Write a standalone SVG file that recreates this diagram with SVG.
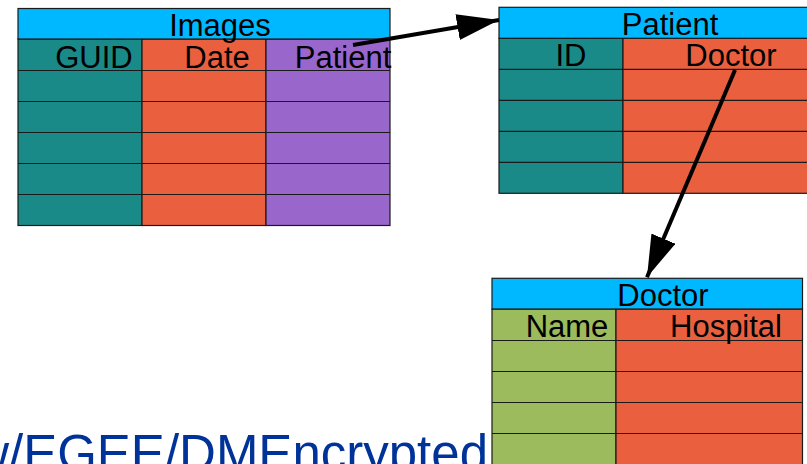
<svg xmlns="http://www.w3.org/2000/svg" width="807" height="464" viewBox="0 0 807 464">
<defs>
<style>
.t{fill:#00B8FF;stroke:#1a1a1a;stroke-width:1.2}
.teal{fill:#1A8A88;stroke:#1a1a1a;stroke-width:1.2}
.or{fill:#EA603F;stroke:#1a1a1a;stroke-width:1.2}
.pu{fill:#9966CC;stroke:#1a1a1a;stroke-width:1.2}
.gr{fill:#9BBB5C;stroke:#1a1a1a;stroke-width:1.2}
text{font-family:"Liberation Sans",Arial,sans-serif;font-size:31px;fill:#000;text-anchor:middle}
.conn{stroke:#000;stroke-width:4;fill:none}
</style>
<marker id="ah" markerUnits="userSpaceOnUse" viewBox="0 0 42 26" refX="42" refY="13" markerWidth="42" markerHeight="26" orient="auto">
<path d="M0,0 L42,13 L0,26 Z" fill="#000"/>
</marker>
</defs>
<rect width="807" height="464" fill="#fff"/>
<text x="488" y="471" style="font-size:51px;fill:#003399;text-anchor:end">w/EGEE/DMEncrypted</text>
<g id="images">
<rect class="teal" x="18" y="39" width="124" height="186.5"/>
<rect class="or" x="142" y="39" width="124" height="186.5"/>
<rect class="pu" x="266" y="39" width="124" height="186.5"/>
<path d="M18,70.5H390M18,101.5H390M18,132.5H390M18,163.5H390M18,194.5H390" stroke="#1a1a1a" stroke-width="1.2"/>
<rect class="t" x="18" y="8.5" width="372" height="30.5"/>
<text x="220" y="36">Images</text>
<text x="94" y="68">GUID</text>
<text x="217" y="68">Date</text>
<text x="343" y="68">Patient</text>
</g>
<g id="patient">
<rect class="teal" x="499" y="38.3" width="124" height="155"/>
<rect class="or" x="623" y="38.3" width="222" height="155"/>
<path d="M499,69.3H845M499,100.3H845M499,131.3H845M499,162.3H845" stroke="#1a1a1a" stroke-width="1.2"/>
<rect class="t" x="499" y="7.3" width="346" height="31"/>
<text x="670" y="35">Patient</text>
<text x="571" y="66">ID</text>
<text x="731" y="66">Doctor</text>
</g>
<g id="doctor">
<rect class="gr" x="492" y="309" width="124" height="170"/>
<rect class="or" x="616" y="309" width="186.5" height="170"/>
<path d="M492,340.5H802.5M492,371.5H802.5M492,402.5H802.5M492,433.5H802.5" stroke="#1a1a1a" stroke-width="1.2"/>
<rect class="t" x="492" y="278.3" width="310.5" height="30.7"/>
<text x="663" y="306">Doctor</text>
<text x="567" y="337">Name</text>
<text x="726" y="337">Hospital</text>
</g>
<g id="connectors">
<line class="conn" x1="353" y1="45" x2="499" y2="20" marker-end="url(#ah)"/>
<line class="conn" x1="735" y1="70" x2="647" y2="277.3" marker-end="url(#ah)"/>
</g>
</svg>
